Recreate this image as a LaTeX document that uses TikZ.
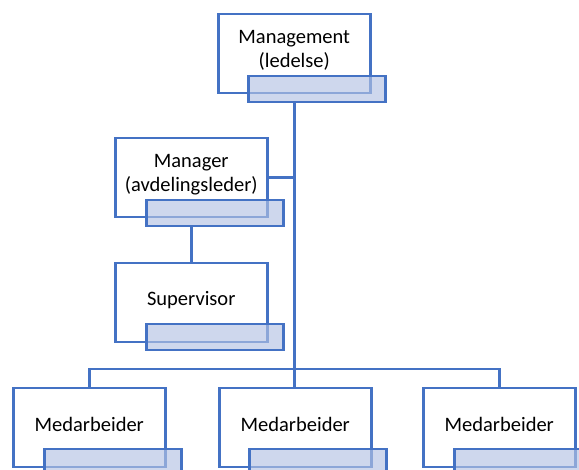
\documentclass[tikz,border=0pt]{standalone}
\usepackage{fontspec}
\setmainfont{Carlito}
\usetikzlibrary{calc}
\definecolor{obl}{HTML}{4472C4}
\definecolor{barfill}{RGB}{180,194,228}
\begin{document}
\begin{tikzpicture}[x=1pt,y=-1pt,
  box/.style={draw=obl,line width=2.5pt,fill=white,minimum width=152pt,minimum height=79pt,inner sep=0pt,anchor=north west},
  bar/.style={draw=obl,line width=2.5pt,fill=barfill,fill opacity=0.65,minimum width=137pt,minimum height=26pt,inner sep=0pt,anchor=north west},
  txt/.style={align=center,inner sep=0pt,font=\fontsize{20.5}{24}\selectfont},
  conn/.style={draw=obl,line width=2.5pt}]
\useasboundingbox (0,0) rectangle (579,470);
\clip (0,0) rectangle (579,470);
% boxes
\node[box] (mgmt) at (217,13) {};
\node[box] (manager) at (114,137) {};
\node[box] (super) at (114,262) {};
\node[box] (w1) at (12,387) {};
\node[box] (w2) at (218,387) {};
\node[box] (w3) at (422,387) {};
% texts
\node[txt] (mgmtT) at ($(mgmt.center)+(0,-3)$) {Management\\(ledelse)};
\node[txt] (managerT) at ($(manager.center)+(0,-3)$) {Manager\\(avdelingsleder)};
\node[txt] (superT) at ($(super.center)+(0,-3)$) {Supervisor};
\node[txt] (w1T) at ($(w1.center)+(0,-3)$) {Medarbeider};
\node[txt] (w2T) at ($(w2.center)+(0,-3)$) {Medarbeider};
\node[txt] (w3T) at ($(w3.center)+(0,-3)$) {Medarbeider};
% bars
\node[bar] (mgmtbar) at (247,75) {};
\node[bar] (managerbar) at (145,199) {};
\node[bar] (superbar) at (145,323) {};
\node[bar] (w1bar) at (43,448) {};
\node[bar] (w2bar) at (248,448) {};
\node[bar] (w3bar) at (453,448) {};
% connectors
\coordinate (bus) at (293,369);
\draw[conn] (mgmtbar.south -| mgmt.south) -- (mgmt.south |- w2.north);
\draw[conn] (w1.north) |- (bus) -| (w3.north);
\draw[conn] (manager.east) -- (manager.east -| mgmt.south);
\draw[conn] (managerbar.south -| manager.north) -- (super.north);
\end{tikzpicture}
\end{document}
